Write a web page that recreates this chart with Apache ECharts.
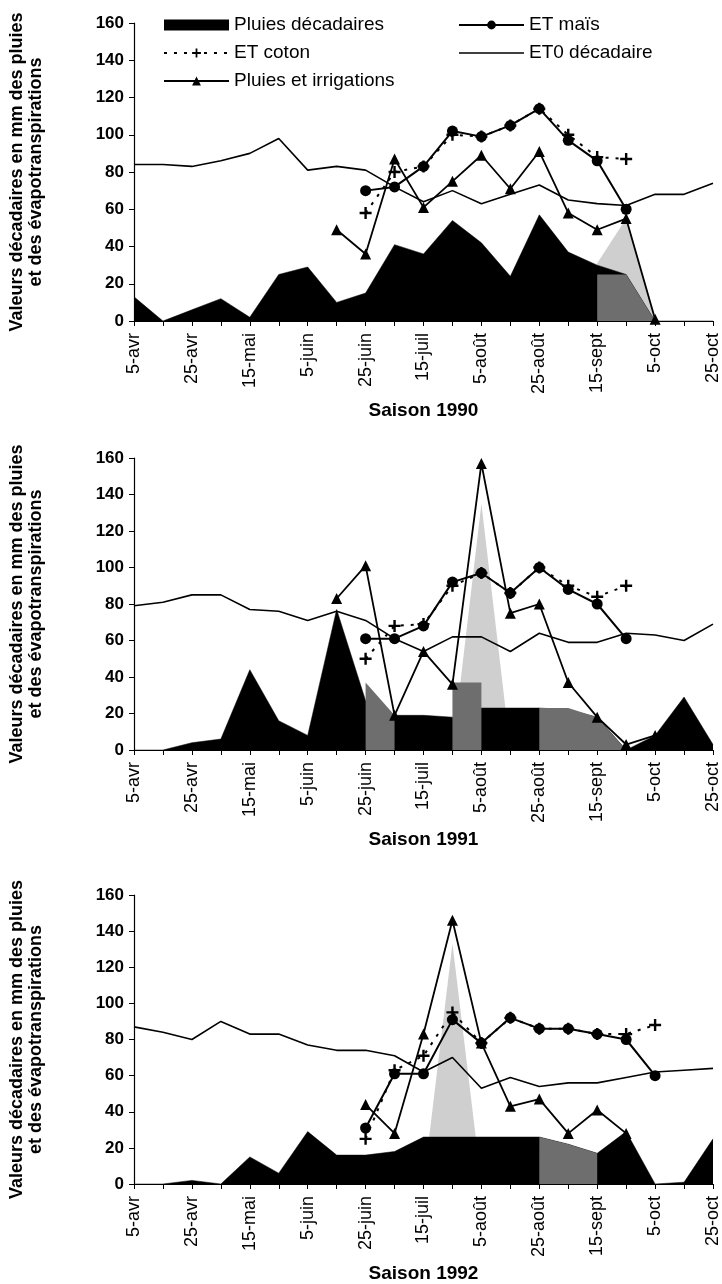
<!DOCTYPE html>
<html>
<head>
<meta charset="utf-8">
<script src="https://cdn.jsdelivr.net/npm/echarts@6/dist/echarts.min.js"></script>
<style>
html,body{margin:0;padding:0;background:#fff;}
#chart{width:722px;height:1284px;}
</style>
</head>
<body>
<div id="chart"></div>
<script>
// ---- categories (decades) ----
const decades = ['5-avr','15-avr','25-avr','5-mai','15-mai','25-mai','5-juin','15-juin','25-juin','5-juil','15-juil','25-juil','5-août','15-août','25-août','5-sept','15-sept','25-sept','5-oct','15-oct','25-oct'];
const yTicks = [0,20,40,60,80,100,120,140,160];
const _ = null;

// ---- Saison 1990 ----
const rain1990   = [13,0,6,12,2,25,29,10,15,41,36,54,42,24,57,37,30,25,0,0,0];
const irrLight1990 = [_,_,_,_,_,_,_,_,_,_,_,_,_,_,_,_,31,55,0,_,_];
const irrDark1990  = [_,_,_,_,_,_,_,_,_,_,_,_,_,_,_,_,25,25,0,_,_];
const eto1990    = [84,84,83,86,90,98,81,83,81,72,64,70,63,68,73,65,63,62,68,68,74];
const mais1990   = [_,_,_,_,_,_,_,_,70,72,83,102,99,105,114,97,86,60,_,_,_];
const coton1990  = [_,_,_,_,_,_,_,_,58,80,83,100,99,105,114,100,88,87,_,_,_];
const irrig1990  = [_,_,_,_,_,_,_,49,36,87,61,75,89,71,91,58,49,55,1,_,_];

// ---- Saison 1991 ----
const rain1991   = [0,0,4,6,44,16,8,77,27,19,19,18,23,23,23,22,18,0,8,29,3];
const irrLight1991 = [_,_,_,_,_,_,_,_,_,_,_,0,135,0,_,_,_,_,_,_,_];
const irrDark1991  = [_,_,_,_,_,_,_,_,37,19,_,37,37,_,23,23,18,0,_,_,_];
const eto1991    = [79,81,85,85,77,76,71,76,71,61,54,62,62,54,64,59,59,64,63,60,69];
const mais1991   = [_,_,_,_,_,_,_,_,61,61,68,92,97,86,100,88,80,61,_,_,_];
const coton1991  = [_,_,_,_,_,_,_,_,50,68,69,90,97,86,100,90,84,90,_,_,_];
const irrig1991  = [_,_,_,_,_,_,_,83,101,19,54,36,157,75,80,37,18,3,8,_,_];

// ---- Saison 1992 ----
const rain1992   = [0,0,2,0,15,6,29,16,16,18,26,26,26,26,26,22,17,29,0,1,25];
const irrLight1992 = [_,_,_,_,_,_,_,_,_,_,0,133,0,_,_,_,_,_,_,_,_];
const irrDark1992  = [_,_,_,_,_,_,_,_,_,_,_,_,_,_,26,22,17,_,_,_,_];
const eto1992    = [87,84,80,90,83,83,77,74,74,71,62,70,53,59,54,56,56,59,62,63,64];
const mais1992   = [_,_,_,_,_,_,_,_,31,61,61,91,78,92,86,86,83,80,60,_,_];
const coton1992  = [_,_,_,_,_,_,_,_,25,63,71,95,78,92,86,86,83,83,88,_,_];
const irrig1992  = [_,_,_,_,_,_,_,_,44,28,83,146,78,43,47,28,41,28,_,_,_];

const seasons = [
  {title:'Saison 1990', rain:rain1990, light:irrLight1990, dark:irrDark1990, eto:eto1990, mais:mais1990, coton:coton1990, irrig:irrig1990},
  {title:'Saison 1991', rain:rain1991, light:irrLight1991, dark:irrDark1991, eto:eto1991, mais:mais1991, coton:coton1991, irrig:irrig1991},
  {title:'Saison 1992', rain:rain1992, light:irrLight1992, dark:irrDark1992, eto:eto1992, mais:mais1992, coton:coton1992, irrig:irrig1992}
];

const FONT = 'Liberation Sans';
const grids = [
  {left:132, top:23, width:582, height:298},
  {left:131, top:458, width:587, height:292},
  {left:128, top:895, width:589, height:295}
];
const PLUS = 'path://M4,0 H6 V4 H10 V6 H6 V10 H4 V6 H0 V4 H4 Z';
const THINLINE = 'path://M0,0 H100 V2.4 H0 Z';

const xAxes = [], yAxes = [], series = [];
seasons.forEach((s, i) => {
  xAxes.push({
    gridIndex:i, type:'category', data:decades, boundaryGap:false,
    name:s.title, nameLocation:'middle', nameGap:80,
    nameTextStyle:{fontFamily:FONT, fontWeight:'bold', fontSize:19, color:'#000'},
    axisLine:{lineStyle:{color:'#000', width:1}},
    axisTick:{show:true, interval:0, length:5, lineStyle:{color:'#000'}},
    axisLabel:{interval:1, rotate:90, fontFamily:FONT, fontSize:18, color:'#000', margin:12},
    splitLine:{show:false}
  });
  yAxes.push({
    gridIndex:i, type:'value', min:0, max:160, interval:20,
    name:'Valeurs décadaires en mm des pluies\net des évapotranspirations',
    nameLocation:'middle', nameGap:88,
    nameTextStyle:{fontFamily:FONT, fontWeight:'bold', fontSize:18, lineHeight:19, color:'#000', align:'center'},
    axisLine:{show:true, lineStyle:{color:'#000', width:1.2}},
    axisTick:{show:true, length:5, lineStyle:{color:'#000'}},
    axisLabel:{fontFamily:FONT, fontWeight:'bold', fontSize:17, color:'#000', margin:10,
      formatter:(v)=> yTicks.includes(v) ? String(v) : ''},
    splitLine:{show:false}
  });
  const common = {xAxisIndex:i, yAxisIndex:i, type:'line', animation:false};
  series.push({...common, name:'irrigation', data:s.light, symbol:'none', z:1,
    lineStyle:{width:0}, itemStyle:{color:'#cfcfcf'}, areaStyle:{color:'#cfcfcf', opacity:1}});
  series.push({...common, name:'Pluies décadaires', data:s.rain, symbol:'none', z:2,
    lineStyle:{width:0.5, color:'#000'}, itemStyle:{color:'#000'}, areaStyle:{color:'#000', opacity:1}});
  series.push({...common, name:'irrigation2', data:s.dark, symbol:'none', z:3,
    lineStyle:{width:0}, itemStyle:{color:'#6e6e6e'}, areaStyle:{color:'#6e6e6e', opacity:1}});
  series.push({...common, name:'ET0 décadaire', data:s.eto, symbol:'none', z:4,
    lineStyle:{width:1.6, color:'#000'}, itemStyle:{color:'#000'}});
  series.push({...common, name:'Pluies et irrigations', data:s.irrig, symbol:'triangle', symbolSize:11, z:5,
    lineStyle:{width:1.8, color:'#000'}, itemStyle:{color:'#000'}});
  series.push({...common, name:'ET coton', data:s.coton, symbol:PLUS, symbolSize:12, z:6,
    lineStyle:{width:2, color:'#000', type:[3,7]}, itemStyle:{color:'#000'}});
  series.push({...common, name:'ET maïs', data:s.mais, symbol:'circle', symbolSize:11, z:7,
    lineStyle:{width:2, color:'#000'}, itemStyle:{color:'#000'}});
});

const legendText = {fontFamily:FONT, fontSize:19, color:'#000', lineHeight:20};
const option = {
  backgroundColor:'#fff',
  animation:false,
  grid:grids.map(g=>({...g, containLabel:false})),
  xAxis:xAxes, yAxis:yAxes, series:series,
  legend:[
    {left:158, top:10, orient:'vertical', itemWidth:65, itemHeight:11, itemGap:8, textStyle:legendText,
     selectedMode:false,
     data:[{name:'Pluies décadaires', icon:'rect'}, {name:'ET coton'}, {name:'Pluies et irrigations'}]},
    {left:453, top:10, orient:'vertical', itemWidth:65, itemHeight:11, itemGap:8, textStyle:legendText,
     selectedMode:false,
     data:[{name:'ET maïs'}, {name:'ET0 décadaire', icon:THINLINE}]}
  ]
};
const chart = echarts.init(document.getElementById('chart'), null, {renderer:'canvas'});
chart.setOption(option);
</script>
</body>
</html>
